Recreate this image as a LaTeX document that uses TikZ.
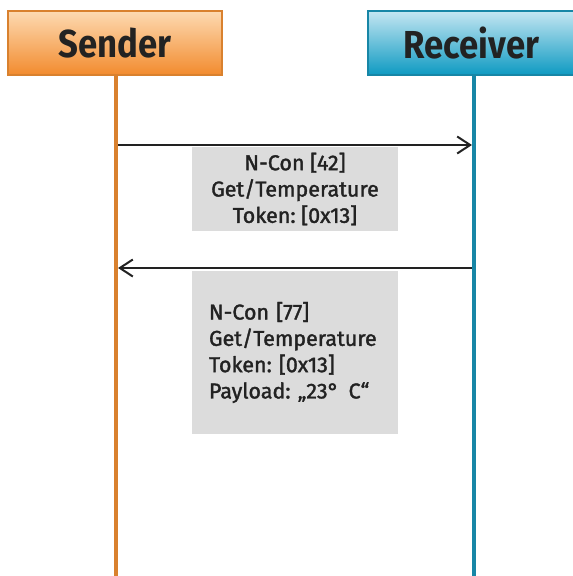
\documentclass[tikz,border=0pt]{standalone}
\usepackage{fontspec}
\setmainfont{Fira Sans}
\newfontfamily\bodyfont{Fira Sans}[FakeBold=1.6]
\usetikzlibrary{arrows.meta}
\definecolor{orbord}{HTML}{D9812E}
\definecolor{ortop}{HTML}{FDDAB2}
\definecolor{orbot}{HTML}{F28B2E}
\definecolor{blbord}{HTML}{1786A6}
\definecolor{bltop}{HTML}{C4E6F2}
\definecolor{blbot}{HTML}{0E9AC2}
\definecolor{msgbg}{HTML}{DCDCDC}
\definecolor{txt}{HTML}{222222}
\newcommand{\hdtext}[1]{\scalebox{0.89}[1]{#1}}
\frenchspacing
\tikzset{
  header/.style={draw=#1bord, line width=2pt, top color=#1top, bottom color=#1bot,
    minimum height=64pt, inner sep=0pt, font=\fontsize{39}{42}\selectfont\bfseries, text=txt},
  lifeline/.style={draw=#1bord, line width=4pt},
  msg/.style={draw=txt, line width=2.2pt, -{Straight Barb[length=13pt,width=17pt,line width=2pt]}},
  msgbox/.style={fill=msgbg, minimum width=206pt, inner sep=0pt, text=txt,
    font=\bodyfont\fontsize{21.5}{26.3}\selectfont}
}
\begin{document}
\begin{tikzpicture}[x=1pt,y=-1pt]
\useasboundingbox (0,0) rectangle (573,576);
\node[header=or, minimum width=214pt] (snd) at (115,43) {\hdtext{Sender}};
\node[header=bl, minimum width=207pt] (rcv) at (471.5,43) {\hdtext{Receiver}};
\coordinate (sb) at (116,577);
\coordinate (rb) at (474,577);
\draw[lifeline=or] (116,75) -- (sb);
\draw[lifeline=bl] (474,75) -- (rb);
\coordinate (s1) at (118,145);
\coordinate (r1) at (472,145);
\coordinate (s2) at (118,268);
\coordinate (r2) at (472,268);
\node[msgbox, minimum height=84pt, align=center] (m1) at (295,189)
  {N-Con [42]\\Get/Temperature\\Token: [0x13]};
\node[msgbox, minimum height=163pt, text width=172pt, align=left] (m2) at (295,352.5)
  {N-Con [77]\\Get/Temperature\\Token: [0x13]\\Payload: „23°\hspace{0.45em}C“};
\draw[msg] (s1) -- (r1);
\draw[msg] (r2) -- (s2);
\end{tikzpicture}
\end{document}
